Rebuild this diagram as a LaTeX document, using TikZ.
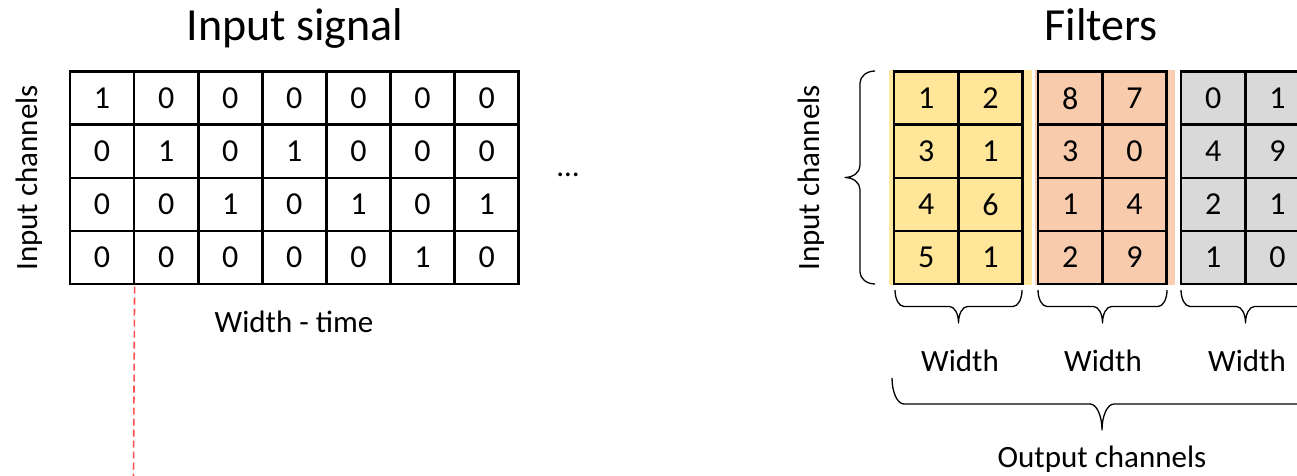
\documentclass[tikz,border=0pt]{standalone}
\usepackage{fontspec}
\setmainfont{Carlito}

\definecolor{fillY}{HTML}{FFE699}
\definecolor{bandY}{HTML}{FFE8A0}
\definecolor{fillO}{HTML}{F8CBAD}
\definecolor{bandO}{HTML}{F9CEB2}
\definecolor{fillG}{HTML}{D9D9D9}
\definecolor{guide}{HTML}{FF5050}

% curly brace opening downwards: #1 left x, #2 right x, #3 top y, #4 depth, #5 arc length
\newcommand{\curlydown}[5]{%
  \draw[curly] ({#1},{#3})
    .. controls ({#1},{#3+0.552*#4/2}) and ({#1+#5*0.448},{#3+#4/2}) .. ({#1+#5},{#3+#4/2})
    -- ({(#1+#2)/2-#5},{#3+#4/2})
    .. controls ({(#1+#2)/2-#5*0.448},{#3+#4/2}) and ({(#1+#2)/2},{#3+#4-0.552*#4/2}) .. ({(#1+#2)/2},{#3+#4})
    .. controls ({(#1+#2)/2},{#3+#4-0.552*#4/2}) and ({(#1+#2)/2+#5*0.448},{#3+#4/2}) .. ({(#1+#2)/2+#5},{#3+#4/2})
    -- ({#2-#5},{#3+#4/2})
    .. controls ({#2-#5*0.448},{#3+#4/2}) and ({#2},{#3+0.552*#4/2}) .. ({#2},{#3});}
% curly brace opening to the left: #1 top y, #2 bottom y, #3 right x, #4 depth, #5 arc length
\newcommand{\curlyleft}[5]{%
  \draw[curly] ({#3},{#1})
    .. controls ({#3-0.552*#4/2},{#1}) and ({#3-#4/2},{#1+#5*0.448}) .. ({#3-#4/2},{#1+#5})
    -- ({#3-#4/2},{(#1+#2)/2-#5})
    .. controls ({#3-#4/2},{(#1+#2)/2-#5*0.448}) and ({#3-#4+0.552*#4/2},{(#1+#2)/2}) .. ({#3-#4},{(#1+#2)/2})
    .. controls ({#3-#4+0.552*#4/2},{(#1+#2)/2}) and ({#3-#4/2},{(#1+#2)/2+#5*0.448}) .. ({#3-#4/2},{(#1+#2)/2+#5})
    -- ({#3-#4/2},{#2-#5})
    .. controls ({#3-#4/2},{#2-#5*0.448}) and ({#3-0.552*#4/2},{#2}) .. ({#3},{#2});}

\begin{document}
\begin{tikzpicture}[x=1pt,y=-1pt,
  cell/.style={draw=black, line width=2.6pt, minimum width=64.1pt,
    minimum height=53.1pt, inner sep=0pt, font=\fontsize{32}{38}\selectfont},
  fcell/.style={cell, minimum width=64.3pt, fill=#1},
  txt/.style={font=\fontsize{31}{37}\selectfont, inner sep=0pt},
  title/.style={font=\fontsize{46}{55}\selectfont, inner sep=0pt},
  curly/.style={line width=1.3pt, line join=round},
]
\useasboundingbox (0,0) rectangle (1297,476);

% titles
\node[title, anchor=base] (t-in) at (295,41) {Input signal};
\node[title, anchor=base] (t-flt) at (1101,41) {Filters};

% input signal grid
\foreach \r/\row in {1/{1,0,0,0,0,0,0}, 2/{0,1,0,1,0,0,0},
                     3/{0,0,1,0,1,0,1}, 4/{0,0,0,0,0,1,0}} {
  \foreach \v [count=\c] in \row {
    \node[cell] (in-\r-\c) at ({70+(\c-0.5)*64.1},{71.7+(\r-0.5)*53.1}) {\v};
  }
}
\node[txt, rotate=90, anchor=base] (lab-in) at (37,178) {Input channels};
\node[txt, anchor=base] (lab-wt) at (294,332) {Width - time};
\node[txt] (more) at (568,175) {…};

% guide line below the first column boundary
\coordinate (g-end) at (133.5,476);
\draw[guide, line width=1.6pt, dash pattern=on 7pt off 4pt] (in-4-1.south east) ++(-0.8,1.3) -- (g-end);

% filter backgrounds
\fill[bandY] (889,70.4) rectangle (1032,285.3);
\fill[bandO] (1035,70.4) rectangle (1175,285.3);

% filters
\foreach \f/\x/\col/\vals in {1/894/fillY/{1,2,3,1,4,6,5,1},
                              2/1038/fillO/{8,7,3,0,1,4,2,9},
                              3/1181/fillG/{0,1,4,9,2,1,1,0}} {
  \foreach \v [count=\k] in \vals {
    \pgfmathtruncatemacro{\r}{int((\k-1)/2)+1}
    \pgfmathtruncatemacro{\c}{mod(\k-1,2)+1}
    \node[fcell=\col] (f\f-\r-\c) at ({\x+(\c-0.5)*64.3},{71.7+(\r-0.5)*53.1}) {\v};
  }
}

\node[txt, rotate=90, anchor=base] (lab-fin) at (819,178) {Input channels};

% braces
\curlyleft{71}{284}{875}{30}{12}
\curlydown{895}{1022}{290}{33}{9}
\curlydown{1038}{1167}{290}{33}{9}
\curlydown{1181}{1310}{290}{33}{9}
\curlydown{892}{1312}{378}{52}{12}

\node[txt, anchor=base] (w1) at (960,371) {Width};
\node[txt, anchor=base] (w2) at (1103,371) {Width};
\node[txt, anchor=base] (w3) at (1247,371) {Width};
\node[txt, anchor=base] (lab-out) at (1102,467) {Output channels};
\end{tikzpicture}
\end{document}
